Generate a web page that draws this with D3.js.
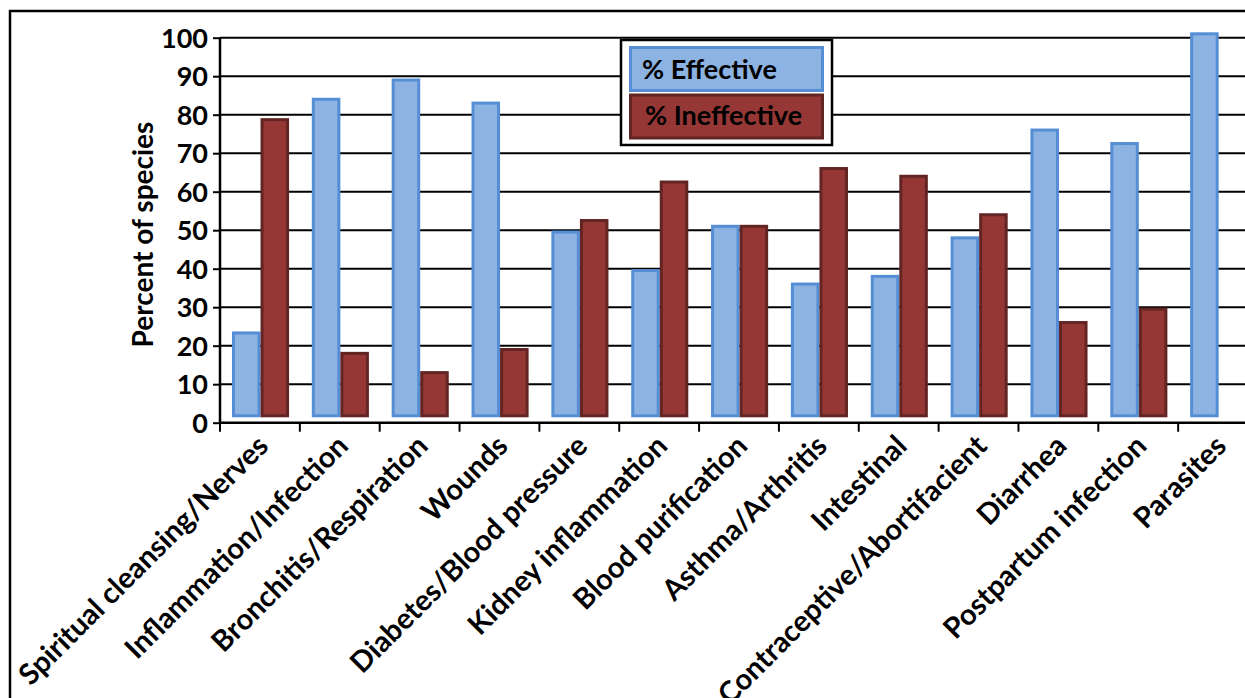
<!DOCTYPE html>
<html>
<head>
<meta charset="utf-8">
<script src="https://cdn.jsdelivr.net/npm/d3@7"></script>
<style>
  html, body { margin: 0; padding: 0; background: #fff; }
  svg { display: block; }
  text { font-family: Lato, "Open Sans", sans-serif; font-weight: 700; fill: #000; }
</style>
</head>
<body>
<svg id="chart" width="1245" height="698"></svg>
<script>
// Uses reported by category, as percent of species
const categories = [
  "Spiritual cleansing/Nerves", "Inflammation/Infection", "Bronchitis/Respiration",
  "Wounds", "Diabetes/Blood pressure", "Kidney inflammation", "Blood purification",
  "Asthma/Arthritis", "Intestinal", "Contraceptive/Abortifacient", "Diarrhea",
  "Postpartum infection", "Parasites"
];
const seriesNames = ["% Effective", "% Ineffective"];
const effective   = [22.3, 83, 88, 82, 48.5, 38.5, 50, 35, 37, 47, 75, 71.5, 100];
const ineffective = [77.7, 17, 12, 18, 51.5, 61.5, 50, 65, 63, 53, 25, 28.5, 0];
const yTicks = [0, 10, 20, 30, 40, 50, 60, 70, 80, 90, 100];
const yTitle = "Percent of species";

const fills   = ["#8db3e2", "#953735"];
const strokes = ["#558ed5", "#632523"];

const svg = d3.select("#chart");
const W = 1245, H = 698;

// chart frame (runs off the right and bottom of the view)
svg.append("rect")
  .attr("x", 10).attr("y", 11)
  .attr("width", W + 20).attr("height", H + 20)
  .attr("fill", "#fff").attr("stroke", "#000").attr("stroke-width", 2.5);

const plot = { left: 220, right: 1258, top: 37.7, bottom: 422.7 };

const y = d3.scaleLinear().domain([0, 100]).range([plot.bottom, plot.top]);
const x = d3.scaleBand().domain(categories).range([plot.left, plot.right]).paddingInner(0).paddingOuter(0);
const bw = x.bandwidth();
const xs = d3.scaleBand().domain(seriesNames).range([bw * 0.15, bw * 0.865]).paddingInner(0);

// horizontal gridlines
svg.append("g").selectAll("line")
  .data(yTicks.filter(t => t > 0))
  .join("line")
  .attr("x1", plot.left).attr("x2", W + 10)
  .attr("y1", d => y(d)).attr("y2", d => y(d))
  .attr("stroke", "#000").attr("stroke-width", 2);

// bars
const lift = 5.4;   // bars sit slightly above the baseline
const sw = 3;
const rows = categories.map((c, i) => ({ c, vals: [effective[i], ineffective[i]] }));
const groups = svg.append("g").selectAll("g")
  .data(rows).join("g")
  .attr("transform", d => `translate(${x(d.c)},0)`);
groups.selectAll("rect")
  .data(d => d.vals.map((v, k) => ({ v, k })).filter(e => e.v > 0))
  .join("rect")
  .attr("x", e => xs(seriesNames[e.k]) + sw / 2)
  .attr("width", xs.bandwidth() - sw)
  .attr("y", e => y(e.v) - lift + sw / 2)
  .attr("height", e => y(0) - y(e.v) - sw)
  .attr("fill", e => fills[e.k])
  .attr("stroke", e => strokes[e.k])
  .attr("stroke-width", sw);

// y axis
const yAxis = svg.append("g")
  .attr("transform", `translate(${plot.left},0)`)
  .call(d3.axisLeft(y).tickValues(yTicks).tickSize(7).tickPadding(5));
yAxis.select(".domain").attr("stroke", "#000").attr("stroke-width", 2.5)
  .attr("d", `M0,${y(0)}V${y(100)}`);
yAxis.selectAll(".tick line").attr("stroke", "#000").attr("stroke-width", 2);
yAxis.selectAll(".tick text")
  .attr("font-size", 27).attr("font-family", "Lato, sans-serif").attr("font-weight", 700)
  .attr("fill", "#000").attr("dy", "0.36em");

// x axis baseline and ticks at category boundaries
svg.append("line")
  .attr("x1", plot.left).attr("x2", W + 10)
  .attr("y1", y(0)).attr("y2", y(0))
  .attr("stroke", "#000").attr("stroke-width", 2.5);
const bounds = categories.map(c => x(c)).concat([x(categories[categories.length - 1]) + bw]);
svg.append("g").selectAll("line")
  .data(bounds).join("line")
  .attr("x1", d => d).attr("x2", d => d)
  .attr("y1", y(0)).attr("y2", y(0) + 9)
  .attr("stroke", "#000").attr("stroke-width", 2);

// category labels, rotated 45 degrees and ending under each group
svg.append("g").selectAll("text")
  .data(categories).join("text")
  .attr("transform", c => `translate(${x(c) + bw / 2 + 10},${y(0) + 25}) rotate(-45)`)
  .attr("text-anchor", "end")
  .attr("font-size", 29)
  .text(c => c);

// y title
svg.append("text")
  .attr("transform", `translate(153,${(122 + 347) / 2}) rotate(-90)`)
  .attr("text-anchor", "middle")
  .attr("font-size", 28)
  .text(yTitle);

// legend
const lg = svg.append("g").attr("transform", "translate(621,40)");
lg.append("rect").attr("x", 0).attr("y", 0).attr("width", 211).attr("height", 105)
  .attr("fill", "#fff").attr("stroke", "#000").attr("stroke-width", 2.5);
const items = lg.selectAll("g.item").data(seriesNames).join("g")
  .attr("class", "item")
  .attr("transform", (d, i) => `translate(8,${6 + i * 47.5})`);
items.append("rect")
  .attr("x", sw / 2).attr("y", sw / 2)
  .attr("width", 195 - sw).attr("height", 46 - sw)
  .attr("fill", (d, i) => fills[i]).attr("stroke", (d, i) => strokes[i]).attr("stroke-width", sw);
items.append("text")
  .attr("x", (d, i) => i === 0 ? 13 : 16)
  .attr("y", (d, i) => i === 0 ? 33 : 31.5)
  .attr("font-size", 27)
  .text(d => d);
</script>
</body>
</html>
